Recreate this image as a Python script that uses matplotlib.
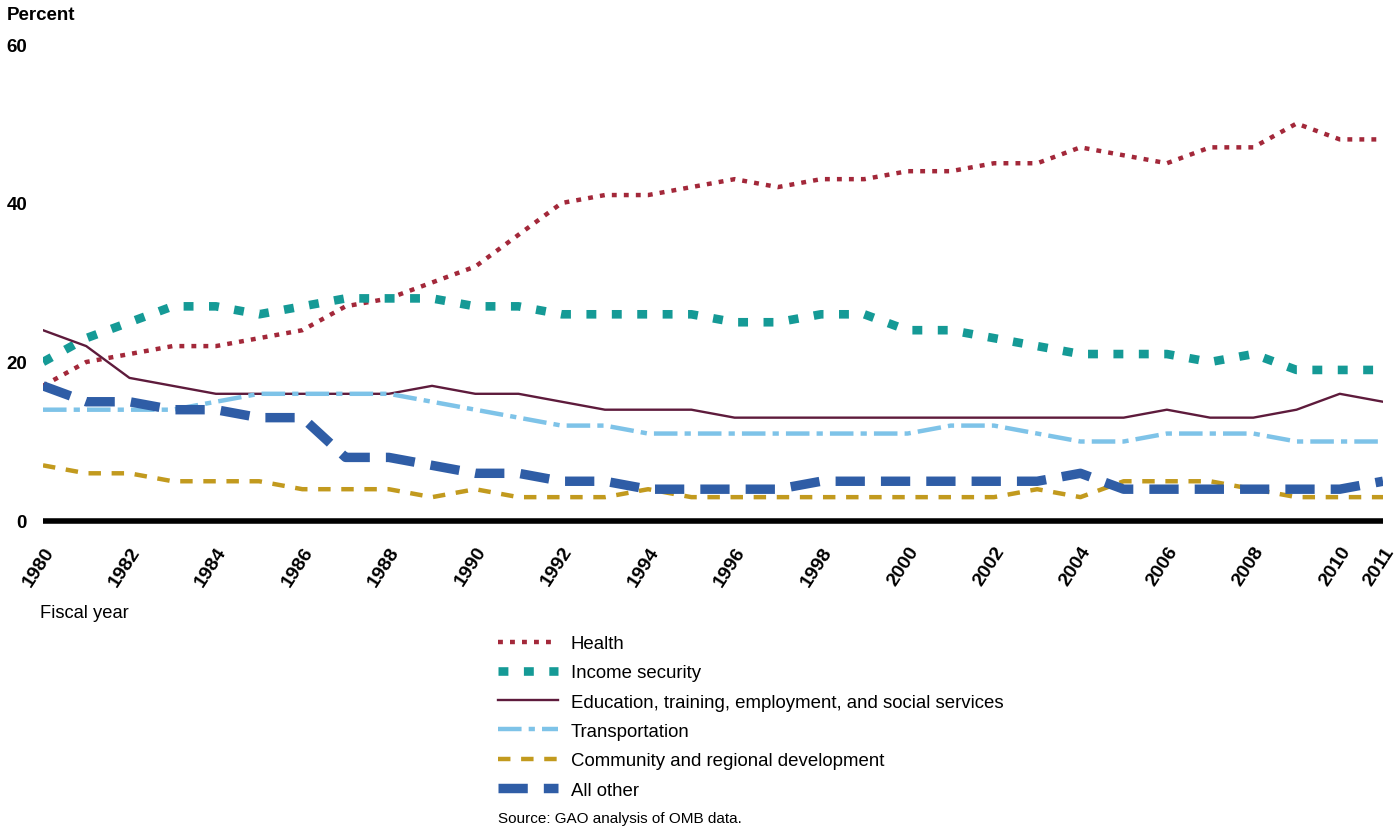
import matplotlib
matplotlib.use("Agg")
import matplotlib.pyplot as plt

plt.rcParams['font.family'] = ['Liberation Sans', 'DejaVu Sans']

years = list(range(1980, 2012))
health = [17, 20, 21, 22, 22, 23, 24, 27, 28, 30, 32, 36, 40, 41, 41, 42,
          43, 42, 43, 43, 44, 44, 45, 45, 47, 46, 45, 47, 47, 50, 48, 48]
income_security = [20, 23, 25, 27, 27, 26, 27, 28, 28, 28, 27, 27, 26, 26, 26, 26,
                   25, 25, 26, 26, 24, 24, 23, 22, 21, 21, 21, 20, 21, 19, 19, 19]
education = [24, 22, 18, 17, 16, 16, 16, 16, 16, 17, 16, 16, 15, 14, 14, 14,
             13, 13, 13, 13, 13, 13, 13, 13, 13, 13, 14, 13, 13, 14, 16, 15]
transportation = [14, 14, 14, 14, 15, 16, 16, 16, 16, 15, 14, 13, 12, 12, 11, 11,
                  11, 11, 11, 11, 11, 12, 12, 11, 10, 10, 11, 11, 11, 10, 10, 10]
community = [7, 6, 6, 5, 5, 5, 4, 4, 4, 3, 4, 3, 3, 3, 4, 3,
             3, 3, 3, 3, 3, 3, 3, 4, 3, 5, 5, 5, 4, 3, 3, 3]
all_other = [17, 15, 15, 14, 14, 13, 13, 8, 8, 7, 6, 6, 5, 5, 4, 4,
             4, 4, 5, 5, 5, 5, 5, 5, 6, 4, 4, 4, 4, 4, 4, 5]

labels = ["Health", "Income security",
          "Education, training, employment, and social services",
          "Transportation", "Community and regional development", "All other"]
yticks = [0, 20, 40, 60]
xticks = [1980, 1982, 1984, 1986, 1988, 1990, 1992, 1994, 1996, 1998, 2000,
          2002, 2004, 2006, 2008, 2010, 2011]

W, H = 1399, 829
fig = plt.figure(figsize=(W / 100, H / 100), dpi=100)
ax_left, ax_right, ax_top, ax_bottom = 43, 1383, 45, 522
ax = fig.add_axes([ax_left / W, 1 - ax_bottom / H, (ax_right - ax_left) / W, (ax_bottom - ax_top) / H])

ax.plot(years, health, color='#A3283A', lw=3.2, linestyle=(0, (1.1, 1.6)), label=labels[0], zorder=3)
ax.plot(years, income_security, color='#159A96', lw=6.2, linestyle=(0, (1.15, 1.8)), label=labels[1], zorder=3)
ax.plot(years, education, color='#5E1B3C', lw=1.7, linestyle='-', label=labels[2], zorder=3)
ax.plot(years, transportation, color='#7EC3E8', lw=3.2, linestyle=(0, (5.3, 1.6, 1.4, 1.6)), label=labels[3], zorder=3)
ax.plot(years, community, color='#C29A1E', lw=3.2, linestyle=(0, (2.8, 2.4)), label=labels[4], zorder=3)
ax.plot(years, all_other, color='#2F5DA6', lw=6.8, linestyle=(0, (3.1, 1.7)), label=labels[5], zorder=4)

ax.set_xlim(1980, 2011)
ax.set_ylim(0, 60)
for s in ['top', 'right', 'left']:
    ax.spines[s].set_visible(False)
ax.spines['bottom'].set_linewidth(4)
ax.spines['bottom'].set_color('black')
ax.spines['bottom'].set_zorder(5)
ax.spines['bottom'].set_capstyle('butt')

ax.set_yticks(yticks)
ax.set_yticklabels([str(v) for v in yticks], fontsize=13.5, fontweight='bold')
ax.tick_params(axis='y', length=0, pad=11.5)
ax.set_xticks(xticks)
ax.set_xticklabels([str(v) for v in xticks], fontsize=14, fontweight='bold',
                   rotation=57, ha='right', va='top', rotation_mode='anchor')
ax.tick_params(axis='x', length=0, pad=16)

fig.text(7 / W, 1 - 16 / H, "Percent", fontsize=13.5, fontweight='bold', va='center', ha='left')
fig.text(40 / W, 1 - 614 / H, "Fiscal year", fontsize=13.2, va='center', ha='left')

handles, lbls = ax.get_legend_handles_labels()
leg = fig.legend(handles, lbls, loc='upper left', bbox_to_anchor=(498 / W, 1 - 636 / H),
                 frameon=False, fontsize=13.4, handlelength=3.25, handletextpad=0.65,
                 labelspacing=0.66, borderaxespad=0, borderpad=0)

fig.text(498 / W, 1 - 819 / H, "Source: GAO analysis of OMB data.", fontsize=11, va='center', ha='left')

fig.savefig("out.png", dpi=100)
